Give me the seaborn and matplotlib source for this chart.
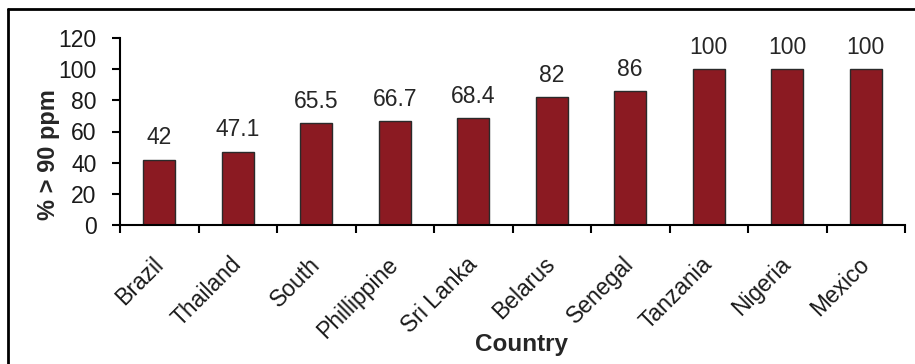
import matplotlib
matplotlib.use("Agg")
import matplotlib.pyplot as plt
from matplotlib.lines import Line2D
import matplotlib.transforms as mtransforms
import seaborn as sns
import pandas as pd
import numpy as np

countries = ["Brazil", "Thailand", "South", "Phillippine", "Sri Lanka",
             "Belarus", "Senegal", "Tanzania", "Nigeria", "Mexico"]
values = [42, 47.1, 65.5, 66.7, 68.4, 82, 86, 100, 100, 100]
labels = ["42", "47.1", "65.5", "66.7", "68.4", "82", "86", "100", "100", "100"]
yticks = [0, 20, 40, 60, 80, 100, 120]

sns.set_style("white")
plt.rcParams['font.family'] = ['Liberation Sans', 'DejaVu Sans']

W, H = 915, 364
fig = plt.figure(figsize=(W / 100, H / 100), dpi=100)
ax = fig.add_axes([120 / W, (H - 225) / H, (905 - 120) / W, (225 - 38) / H])

df = pd.DataFrame({"Country": countries, "val": values})
sns.barplot(data=df, x="Country", y="val", ax=ax, color="#8B1A22",
            saturation=1, width=0.41, edgecolor="#2a2a2a", linewidth=1.0)

for bar, lab in zip(ax.patches, labels):
    ax.annotate(lab, (bar.get_x() + bar.get_width() / 2, bar.get_height()),
                xytext=(0, 7.5), textcoords="offset points", ha="center", va="bottom",
                fontsize=16.5, color="#262626")

ax.set_ylim(0, 120)
ax.set_yticks(yticks)
ax.set_yticklabels([str(t) for t in yticks], fontsize=16.5, color="#1a1a1a")
ax.set_xlim(-0.5, len(countries) - 0.5)

# major ticks at category boundaries, labels on minor ticks
ax.set_xticks(np.arange(-0.5, len(countries), 1.0))
ax.set_xticklabels([])
ax.set_xticks(np.arange(len(countries)), minor=True)
ax.set_xticklabels(countries, minor=True, rotation=45, ha="right", va="top",
                   rotation_mode="anchor", fontsize=16.5, color="#1a1a1a")
ax.tick_params(axis="x", which="minor", length=0, pad=20)
offset = mtransforms.ScaledTranslation(-8 / 100, 0, fig.dpi_scale_trans)
for t in ax.get_xticklabels(minor=True):
    t.set_transform(t.get_transform() + offset)
ax.tick_params(axis="x", which="major", direction="out", length=6, width=1.5, color="black", bottom=True)
ax.tick_params(axis="y", direction="out", length=6, width=1.5, color="black", left=True, pad=11)

for s in ["top", "right"]:
    ax.spines[s].set_visible(False)
for s in ["left", "bottom"]:
    ax.spines[s].set_color("black")
    ax.spines[s].set_linewidth(1.5)

ax.set_ylabel("% > 90 ppm", fontsize=17, fontweight="bold")
ax.set_xlabel("Country", fontsize=17.5, fontweight="bold")
ax.xaxis.set_label_coords((521 - 120) / (905 - 120), -(345 - 225) / (225 - 38))
ax.xaxis.label.set_va("center")
ax.yaxis.set_label_coords(-(120 - 48) / (905 - 120), (225 - 155) / (225 - 38))
ax.yaxis.label.set_va("center")

# outer frame (left and top)
fig.add_artist(Line2D([8 / W, 8 / W], [0, (H - 9) / H], color="black", lw=2))
fig.add_artist(Line2D([8 / W, 1], [(H - 9) / H, (H - 9) / H], color="black", lw=2))

fig.savefig("out.png", dpi=100)
